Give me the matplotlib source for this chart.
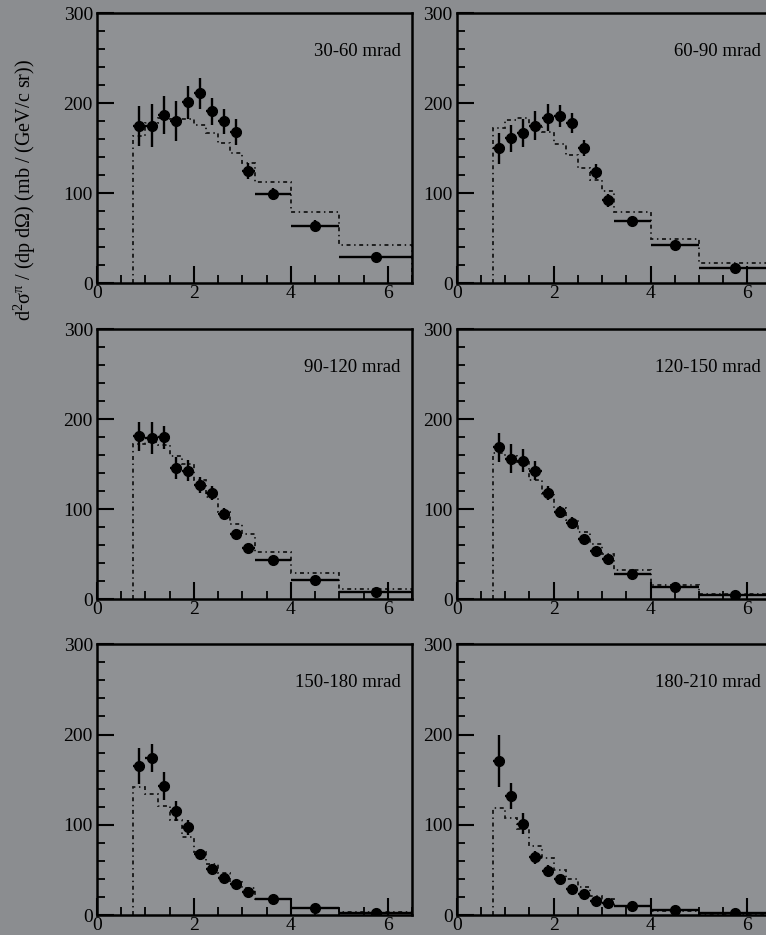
import matplotlib
matplotlib.use("Agg")
import matplotlib.pyplot as plt
from matplotlib.ticker import MultipleLocator
import numpy as np

plt.rcParams['font.family'] = ['Liberation Serif', 'DejaVu Serif']
plt.rcParams['mathtext.fontset'] = 'custom'
plt.rcParams['mathtext.rm'] = 'Liberation Serif'
plt.rcParams['mathtext.it'] = 'Liberation Serif:italic'

# momentum bin edges (GeV/c)
bin_edges = [0.75, 1.0, 1.25, 1.5, 1.75, 2.0, 2.25, 2.5, 2.75, 3.0, 3.25, 4.0, 5.0, 6.5]

panel_titles = ["30-60 mrad", "60-90 mrad", "90-120 mrad",
                "120-150 mrad", "150-180 mrad", "180-210 mrad"]

# measured cross sections
y_30_60 = [175, 175, 187, 180, 201, 211, 191, 180, 168, 125, 99, 64, 29]
e_30_60 = [22, 24, 21, 22, 18, 17, 15, 14, 14, 9, 7, 6, 5]
m_30_60 = [164, 178, 184, 182, 182, 176, 167, 156, 145, 134, 112, 79, 42.5]

y_60_90 = [150, 161, 167, 175, 184, 186, 178, 150, 124, 92, 69, 43, 17.5]
e_60_90 = [17, 15, 16, 16, 15, 12, 11, 9, 8, 7, 5, 4, 3]
m_60_90 = [172, 181, 184, 176, 168, 155, 142, 128, 115, 103, 79, 49, 22.5]

y_90_120 = [181, 179, 180, 146, 143, 127, 118, 95, 73, 57, 44, 22, 8]
e_90_120 = [16.5, 17.5, 12.5, 12.5, 11.5, 8.5, 7.5, 6, 5.5, 4, 3, 3, 2]
m_90_120 = [173, 175, 171, 159, 150, 133, 114, 97, 84, 73, 53, 29, 11]

y_120_150 = [169, 156, 154, 143, 118, 97, 85, 67, 54, 45, 28, 14, 5]
e_120_150 = [16, 16, 13, 10.5, 8, 7, 6, 5, 4, 4, 3, 3, 2]
m_120_150 = [162, 159, 153, 133, 116, 101, 88, 75, 61, 50, 33, 16, 6]

y_150_180 = [165, 174, 143, 115, 97, 68, 51, 41, 34, 25, 17.5, 7.5, 2.5]
e_150_180 = [20, 15.5, 15, 11, 8.5, 5, 5, 4, 4, 3, 3, 2, 2]
m_150_180 = [142, 134, 121, 105, 86, 70, 57, 47, 37, 29.5, 17.7, 7.4, 3]

y_180_210 = [171, 132, 101, 64, 49, 39.5, 28.5, 23, 15.5, 13.7, 10, 5.5, 2]
e_180_210 = [29, 14.5, 11.5, 7, 6, 5, 4, 3.5, 3, 3, 2, 2, 1.5]
m_180_210 = [119, 108, 95, 77, 63, 50, 40, 31, 21, 17.5, 10, 4.4, 1.2]

ys = [y_30_60, y_60_90, y_90_120, y_120_150, y_150_180, y_180_210]
es = [e_30_60, e_60_90, e_90_120, e_120_150, e_150_180, e_180_210]
ms = [m_30_60, m_60_90, m_90_120, m_120_150, m_150_180, m_180_210]

W, H = 766, 935
bg = '#8b8d90'
fig = plt.figure(figsize=(W / 100, H / 100), dpi=100, facecolor=bg)

col_left = [97, 456.7]
ax_w = 315
row_top = [13.3, 329.3, 644.3]
ax_h = [270, 270, 270.7]

edges = np.array(bin_edges)
centers = 0.5 * (edges[:-1] + edges[1:])
halfw = 0.5 * (edges[1:] - edges[:-1])

for i in range(6):
    r, c = divmod(i, 2)
    l = col_left[c] / W
    b = 1 - (row_top[r] + ax_h[r]) / H
    ax = fig.add_axes([l, b, ax_w / W, ax_h[r] / H])
    ax.set_facecolor('#8f9194')
    ax.set_xlim(0, 6.5)
    ax.set_ylim(0, 300)
    ax.stairs(ms[i], edges, baseline=0, color='#151515', lw=1.3,
              linestyle=(0, (2.2, 2.0, 0.8, 2.0)))
    ax.errorbar(centers, ys[i], xerr=halfw, yerr=es[i], fmt='o', color='black',
                ms=7, elinewidth=1.7, capsize=0)
    ax.text(6.27, 258, panel_titles[i], ha='right', va='center', fontsize=13.5)
    ax.xaxis.set_major_locator(MultipleLocator(2))
    ax.xaxis.set_minor_locator(MultipleLocator(0.5))
    ax.yaxis.set_major_locator(MultipleLocator(100))
    ax.yaxis.set_minor_locator(MultipleLocator(20))
    ax.tick_params(which='major', direction='in', length=12, width=1.5,
                   top=False, right=False, labelsize=14, colors='black')
    ax.tick_params(axis='x', which='major', pad=1.5)
    ax.tick_params(axis='y', which='major', pad=3)
    ax.tick_params(which='minor', direction='in', length=6, width=1.3,
                   top=False, right=False)
    for s in ax.spines.values():
        s.set_linewidth(1.8)
        s.set_color('black')

fig.text(25 / W, 1 - 190 / H,
         r'd$^{2}$σ$^{\mathrm{π}}$ / (dp dΩ) (mb / (GeV/c sr))',
         rotation=90, ha='center', va='center', fontsize=14.5)

fig.savefig('out.png', dpi=100, facecolor=bg)
